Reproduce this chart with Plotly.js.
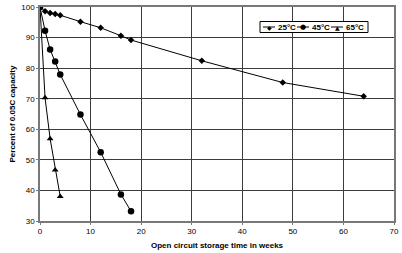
<!DOCTYPE html>
<html><head><meta charset="utf-8">
<script src="https://cdn.plot.ly/plotly-3.0.1.min.js"></script>
<style>html,body{margin:0;padding:0;background:#fff}#c{width:402px;height:253px}</style>
</head><body><div id="c"></div>
<script>
const x25 = [0,1,2,3,4,8,12,16,18,32,48,64];
const y25 = [100,98.6,98,97.7,97.3,95.2,93.2,90.6,89.2,82.4,75.3,70.8];
const x45 = [0,1,2,3,4,8,12,16,18];
const y45 = [100,92.2,86.1,82.2,77.9,64.8,52.5,38.7,33.2];
const x65 = [0,1,2,3,4];
const y65 = [100,70.3,56.9,46.7,38.0];
const names = ['25°C','45°C','65°C'];
const symbols = ['diamond','circle','triangle-up'];
const glyphs = ['◆','●','▲'];

const line = {color:'#000', width:1};
const traces = [
  {x:x25, y:y25, name:names[0], mode:'lines+markers', line:line, marker:{symbol:symbols[0], size:5, color:'#000'}},
  {x:x45, y:y45, name:names[1], mode:'lines+markers', line:line, marker:{symbol:symbols[1], size:6.5, color:'#000'}},
  {x:x65, y:y65, name:names[2], mode:'lines+markers', line:line, marker:{symbol:symbols[2], size:6, color:'#000'}}
];
const fam = 'Liberation Sans, Arial, sans-serif';
const pl = 40, pw = 354, pb = 221, ph = 214;
const px = v => (v - pl) / pw;
const py = v => (pb - v) / ph;
const shapes = [
  {type:'rect', xref:'paper', yref:'paper', x0:px(260), x1:px(368), y0:py(32.5), y1:py(21.5),
   line:{color:'#000', width:1}, fillcolor:'#fff', layer:'above'}
];
const annotations = [];
const starts = [263, 297, 331];
names.forEach((n, i) => {
  const s = starts[i];
  shapes.push({type:'line', xref:'paper', yref:'paper', x0:px(s), x1:px(s+12), y0:py(27), y1:py(27),
    line:{color:'#000', width:1}, layer:'above'});
  annotations.push({xref:'paper', yref:'paper', x:px(s+6), y:py(27), text:glyphs[i], showarrow:false,
    xanchor:'center', yanchor:'middle', font:{family:'DejaVu Sans', size: i===1 ? 7 : 6, color:'#000'}});
  annotations.push({xref:'paper', yref:'paper', x:px(s+13), y:py(27), text:'<b>'+n+'</b>', showarrow:false,
    xanchor:'left', yanchor:'middle', font:{family:fam, size:8, color:'#000'}});
});
// axis titles as paper annotations
annotations.push({xref:'paper', yref:'paper', x:px(217), y:py(245), text:'<b>Open circuit storage time in weeks</b>',
  showarrow:false, xanchor:'center', yanchor:'middle', font:{family:fam, size:8, color:'#000'}});
annotations.push({xref:'paper', yref:'paper', x:px(11.5), y:py(114), text:'<b>Percent of 0.05C capacity</b>',
  showarrow:false, xanchor:'center', yanchor:'middle', textangle:-90, font:{family:fam, size:8, color:'#000'}});
const axisCommon = {
  showgrid:true, gridcolor:'#3c3c3c', gridwidth:1, tickmode:'linear', dtick:10,
  showline:true, linecolor:'#787878', linewidth:1.5, mirror:true,
  ticks:'outside', ticklen:2, tickcolor:'#787878', zeroline:false,
  tickfont:{size:8, color:'#000'}
};
const layout = {
  width:402, height:253,
  margin:{l:40, r:8, t:7, b:32},
  font:{family:fam, size:8, color:'#000'},
  showlegend:false,
  shapes:shapes, annotations:annotations,
  xaxis:Object.assign({}, axisCommon, {range:[0,70], tick0:0}),
  yaxis:Object.assign({}, axisCommon, {range:[30,100], tick0:30})
};
Plotly.newPlot('c', traces, layout, {displayModeBar:false});
</script></body></html>
